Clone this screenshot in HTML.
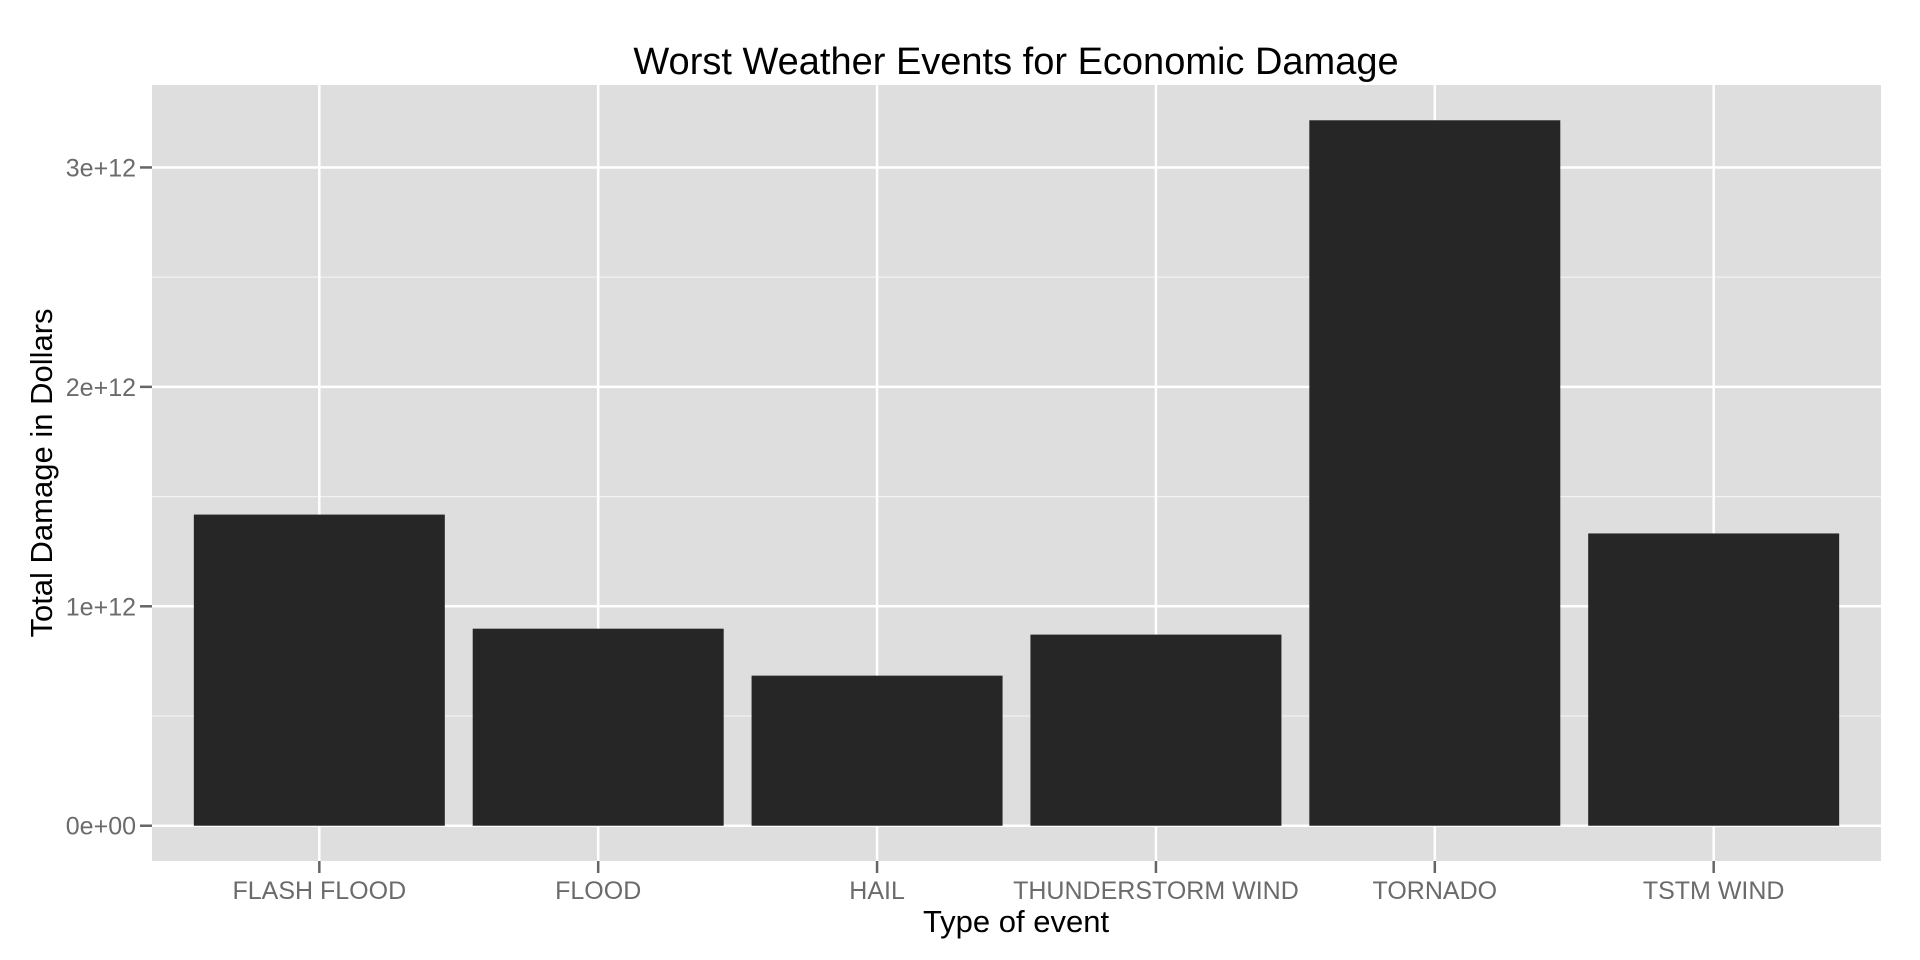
<!DOCTYPE html>
<html><head><meta charset="utf-8"><style>
html,body{margin:0;padding:0;background:#fff;width:1920px;height:960px;overflow:hidden}
svg text{font-family:"Liberation Sans",Arial,sans-serif}
</style></head><body>
<svg id="chart" width="1920" height="960" xmlns="http://www.w3.org/2000/svg">
<rect x="0" y="0" width="1920" height="960" fill="#fff"/>
<rect x="152" y="85" width="1729" height="776" fill="#dedede"/>
<g id="grid"></g><g id="bars"></g><g id="axes"></g>
<text x="1016" y="74" font-size="38" text-anchor="middle" fill="#000">Worst Weather Events for Economic Damage</text>
<text x="1016" y="932" font-size="31" text-anchor="middle" fill="#000">Type of event</text>
<text transform="translate(52,473) rotate(-90)" font-size="31" text-anchor="middle" fill="#000">Total Damage in Dollars</text>
</svg>
<script>
const categories=["FLASH FLOOD","FLOOD","HAIL","THUNDERSTORM WIND","TORNADO","TSTM WIND"];
const values=[1.418e12,0.898e12,0.684e12,0.871e12,3.215e12,1.332e12];
const yTicks=[0,1e12,2e12,3e12];
const yTickLabels=["0e+00","1e+12","2e+12","3e+12"];
const yMinor=[0.5e12,1.5e12,2.5e12];
const NS="http://www.w3.org/2000/svg";
const L=152,R=1881,T=85,B=861;
const vmax=Math.max(...values),pad=vmax*0.05;
const ymin=-pad,ymax=vmax+pad;
function y(v){return B-(v-ymin)/(ymax-ymin)*(B-T);}
const unit=(R-L)/(categories.length-1+1.2);
function x(i){return L+(0.6+i)*unit;}
function mk(tag,attrs,parent){const e=document.createElementNS(NS,tag);for(const k in attrs)e.setAttribute(k,attrs[k]);parent.appendChild(e);return e;}
const grid=document.getElementById('grid'),bars=document.getElementById('bars'),axes=document.getElementById('axes');
yMinor.forEach(v=>{if(y(v)<T||y(v)>B)return;const l=mk('line',{x1:L,x2:R,y1:y(v),y2:y(v),stroke:'#f2f2f2','stroke-width':1.2},grid);

});
yTicks.forEach((v,i)=>{const l=mk('line',{x1:L,x2:R,y1:y(v),y2:y(v),stroke:'#fff','stroke-width':2.5},grid);


const t=mk('line',{x1:140,x2:152,y1:y(v),y2:y(v),stroke:'#666','stroke-width':2.5},axes);


const tx=mk('text',{x:136,y:y(v)+9,'font-size':25,'text-anchor':'end',fill:'#6b6b6b'},axes);tx.textContent=yTickLabels[i];

});
categories.forEach((c,i)=>{const l=mk('line',{x1:x(i),x2:x(i),y1:T,y2:B,stroke:'#fff','stroke-width':2.5},grid);


const b=mk('rect',{x:x(i)-0.45*unit,width:0.9*unit,y:y(values[i]),height:y(0)-y(values[i]),fill:'#262626'},bars);


const t=mk('line',{x1:x(i),x2:x(i),y1:861,y2:873,stroke:'#666','stroke-width':2.5},axes);


const tx=mk('text',{x:x(i),y:899,'font-size':25,'text-anchor':'middle',fill:'#6b6b6b'},axes);tx.textContent=c;

});
</script>
</body></html>
